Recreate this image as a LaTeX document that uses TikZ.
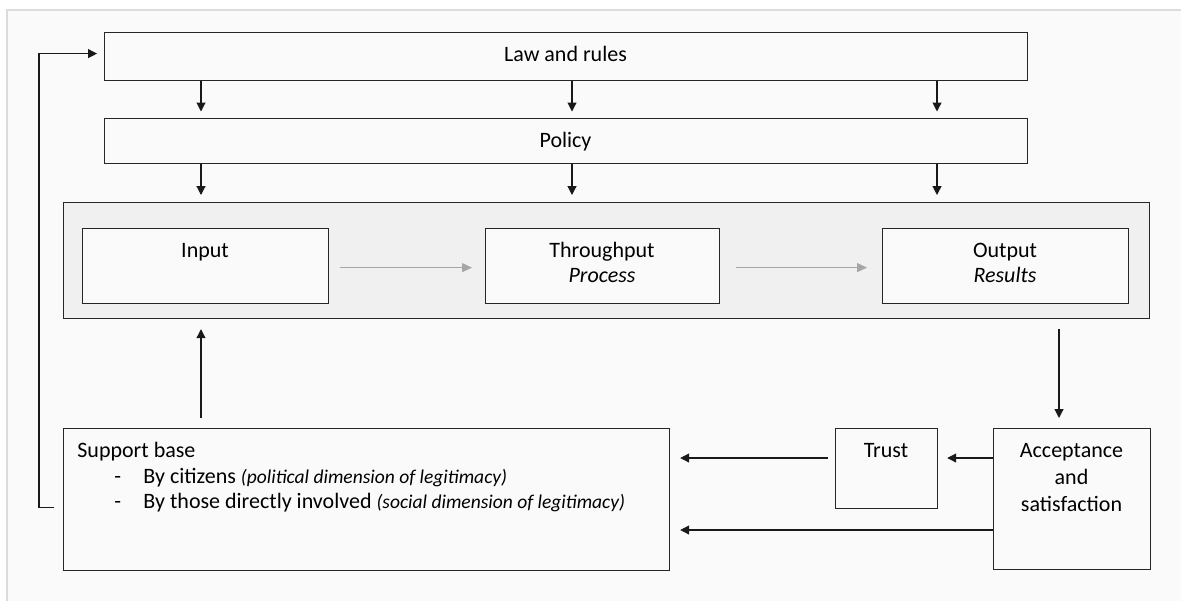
\documentclass[tikz,border=0pt]{standalone}
\usepackage{fontspec}
\setmainfont{Carlito}
\usetikzlibrary{arrows.meta,calc}
\definecolor{pagebg}{HTML}{FAFAFA}
\definecolor{framegray}{HTML}{DCDCDC}
\definecolor{panelgray}{HTML}{F0F0F0}
\definecolor{flowgray}{HTML}{A6A6A6}

\begin{document}
\begin{tikzpicture}[x=0.5pt,y=-0.5pt,
    box/.style={draw=black!85,line width=0.6pt,fill=pagebg,inner sep=0pt,anchor=north west,
        font=\fontsize{11}{13.5}\selectfont},
    txt/.style={anchor=base,inner sep=0pt,font=\fontsize{11}{13.5}\selectfont},
    arr/.style={draw=black!90,line width=0.55pt,-{Triangle[length=4.5pt,width=4.5pt]}},
    flow/.style={draw=flowgray,line width=0.6pt,-{Triangle[length=5pt,width=4.5pt]}}]
    \useasboundingbox (0,0) rectangle (1181,600);
    \draw[framegray,fill=pagebg,line width=0.8pt] (7,620) -- (7,10) -- (1200,10) -- (1200,620) -- cycle;

    % upper boxes
    \node[box,minimum width=461.5pt,minimum height=24pt] (law) at (104,32) {};
    \node[txt] (lawtext) at (565.5,61) {Law and rules};
    \node[box,minimum width=461.5pt,minimum height=22.5pt] (policy) at (104,117.5) {};
    \node[txt] (policytext) at (565.5,147) {Policy};

    % process panel
    \node[box,fill=panelgray,minimum width=543pt,minimum height=58pt] (panel) at (63,202) {};
    \node[box,minimum width=123pt,minimum height=37.5pt] (input) at (82,228) {};
    \node[box,minimum width=117pt,minimum height=37.5pt] (through) at (485,228) {};
    \node[box,minimum width=123pt,minimum height=37.5pt] (output) at (882,228) {};
    \node[txt] (inputtext) at (205,257) {Input};
    \node[txt] (throughtext) at (602,257) {Throughput};
    \node[txt,font=\fontsize{11}{13.5}\selectfont\itshape] (processtext) at (602,282) {Process};
    \node[txt] (outputtext) at (1005,257) {Output};
    \node[txt,font=\fontsize{11}{13.5}\selectfont\itshape] (resultstext) at (1005,282) {Results};

    % lower boxes
    \node[box,minimum width=303pt,minimum height=71pt] (support) at (63,428) {};
    \node[box,minimum width=51pt,minimum height=40pt] (trust) at (835,428) {};
    \node[box,minimum width=78.5pt,minimum height=70.5pt] (accept) at (993,428) {};
    \node[txt] (trusttext) at (886,457) {Trust};
    \node[txt] (accepttext) at (1071.5,457) {Acceptance};
    \node[txt] (andtext) at (1071.5,484) {and};
    \node[txt] (satistext) at (1071.5,511) {satisfaction};
    \node[txt,anchor=base west] (supporttext) at (77,457) {Support base};
    \node[txt,anchor=base west] (dashone) at (114,483) {-};
    \node[txt,anchor=base west] (citizens) at (143,483) {By citizens {\fontsize{9.75}{11}\selectfont\itshape (political dimension of legitimacy)}};
    \node[txt,anchor=base west] (dashtwo) at (114,508) {-};
    \node[txt,anchor=base west] (involved) at (143,508) {By those directly involved {\fontsize{9.75}{11}\selectfont\itshape (social dimension of legitimacy)}};

    % arrows
    \foreach \x in {201,572,937} {
        \draw[arr] (law.south -| \x,0) -- ($(policy.north -| \x,0)+(0,-6)$);
        \draw[arr] (policy.south -| \x,0) -- ($(panel.north -| \x,0)+(0,-7)$);
    }
    \draw[flow] ($(input.east)+(11,1.5)$) -- ($(through.west)+(-13,1.5)$);
    \draw[flow] ($(through.east)+(16,1.5)$) -- ($(output.west)+(-15,1.5)$);
    \draw[arr] ($(panel.south -| 1059,0)+(0,10)$) -- ($(accept.north -| 1059,0)+(0,-10)$);
    \draw[arr] (accept.west |- 0,458) -- ($(trust.east |- 0,458)+(9,0)$);
    \draw[arr] ($(trust.west |- 0,458)+(-7,0)$) -- ($(support.east |- 0,458)+(10,0)$);
    \draw[arr] (accept.west |- 0,530) -- ($(support.east |- 0,530)+(10,0)$);
    \draw[arr] ($(support.north -| 201,0)+(0,-10)$) -- ($(panel.south -| 201,0)+(0,10)$);
    \draw[arr] ($(support.west)+(-9,8)$) -| ($(law.west)+(-65,-3)$) -- ($(law.west)+(-7,-3)$);
\end{tikzpicture}
\end{document}
